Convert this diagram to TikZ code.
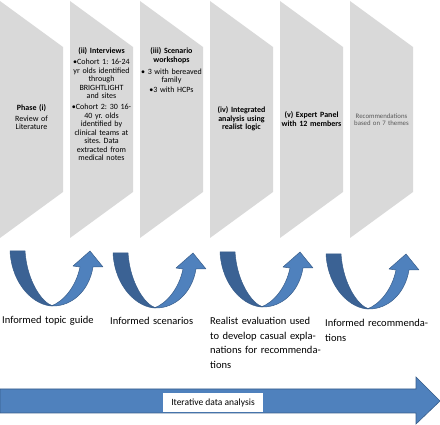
\documentclass[tikz,border=0pt]{standalone}
\usepackage{fontspec}
\setmainfont{Carlito}
\usepackage{tikz}
\frenchspacing

\begin{document}
\begin{tikzpicture}[x=1pt,y=-1pt]
\useasboundingbox (0,0) rectangle (440,425);
\definecolor{chevColor}{RGB}{217,217,217}
\definecolor{arrowLight}{RGB}{79,129,189}
\definecolor{arrowDark}{RGB}{59,98,148}
\definecolor{arrowLine}{RGB}{56,93,138}
\definecolor{noteColor}{RGB}{89,89,89}
\tikzset{phaseText/.style={anchor=base,align=center,text width=70pt,inner sep=0pt,font=\fontsize{8}{8.5}\selectfont},
  noteText/.style={anchor=base,align=center,text width=70pt,inner sep=0pt,color=noteColor,font=\fontsize{6.8}{7.5}\selectfont},
  outText/.style={anchor=base west,align=left,text width=150pt,inner sep=0pt,font=\fontsize{10.5}{14.5}\selectfont}}
\foreach \x in {0,70,140,210,280,350}
  \fill[chevColor] (\x,1) -- (\x+63,47) -- (\x+63,192) -- (\x,238) -- cycle;
\node[phaseText] (phaseI) at (31.5,111) {\textbf{Phase (i)}\\[2pt]Review of\\Literature};
\node[phaseText] (phaseII) at (101.5,54) {\textbf{(ii) Interviews}\\[2.5pt]\textbullet Cohort 1: 16-24\\yr olds identified\\through\\BRIGHTLIGHT\\and sites\\[2.5pt]\textbullet Cohort 2: 30 16-\\40 yr. olds\\identified by\\clinical teams at\\sites. Data\\extracted from\\medical notes};
\node[phaseText] (phaseIII) at (171.5,54) {\textbf{(iii) Scenario}\\\textbf{workshops}\\[3.5pt]\textbullet{} 3 with bereaved\\family\\[1.5pt]\textbullet 3 with HCPs};
\node[phaseText] (phaseIV) at (241.5,113) {\textbf{(iv) Integrated}\\\textbf{analysis using}\\\textbf{realist logic}};
\node[phaseText] (phaseV) at (311.5,118) {\textbf{(v) Expert Panel}\\\textbf{with 12 members}};
\node[noteText] (phaseVI) at (381.5,118.5) {Recommendations\\based on 7 themes};
\foreach \x/\y in {10/251,113/253,220/252,326/254} {
  \begin{scope}[shift={(\x,\y)}]
    \draw[arrowLine,fill=arrowDark,line join=round,line width=0.5pt] (0,0) -- (15,0) .. controls (17,30) and (32,52) .. (43,55) .. controls (25,55) and (2,35) .. (0,0) -- cycle;
    \draw[arrowLine,fill=arrowLight,line join=round,line width=0.5pt] (41,55) .. controls (53,51) and (66,36) .. (70,16) -- (63,15) -- (80,0) -- (93,16) -- (83,16) .. controls (79,40) and (62,55) .. (43,55) -- cycle;
  \end{scope}
}
\node[outText] (guideText) at (2,323.5) {Informed topic guide};
\node[outText] (scenText) at (110,325) {Informed scenarios};
\node[outText] (evalText) at (210,325) {Realist evaluation used\\to develop casual expla-\\nations for recommenda-\\tions};
\node[outText] (recText) at (325,327) {Informed recommenda-\\tions};
\draw[arrowLine,fill=arrowLight,line width=0.6pt] (0,389) -- (416,389) -- (416,377) -- (440,401) -- (416,424) -- (416,413) -- (0,413) -- cycle;
\node[fill=white,inner sep=0pt,minimum width=100pt,minimum height=19pt,font=\fontsize{9.5}{11}\selectfont] (iterBox) at (213,402.5) {Iterative data analysis};
\end{tikzpicture}
\end{document}
